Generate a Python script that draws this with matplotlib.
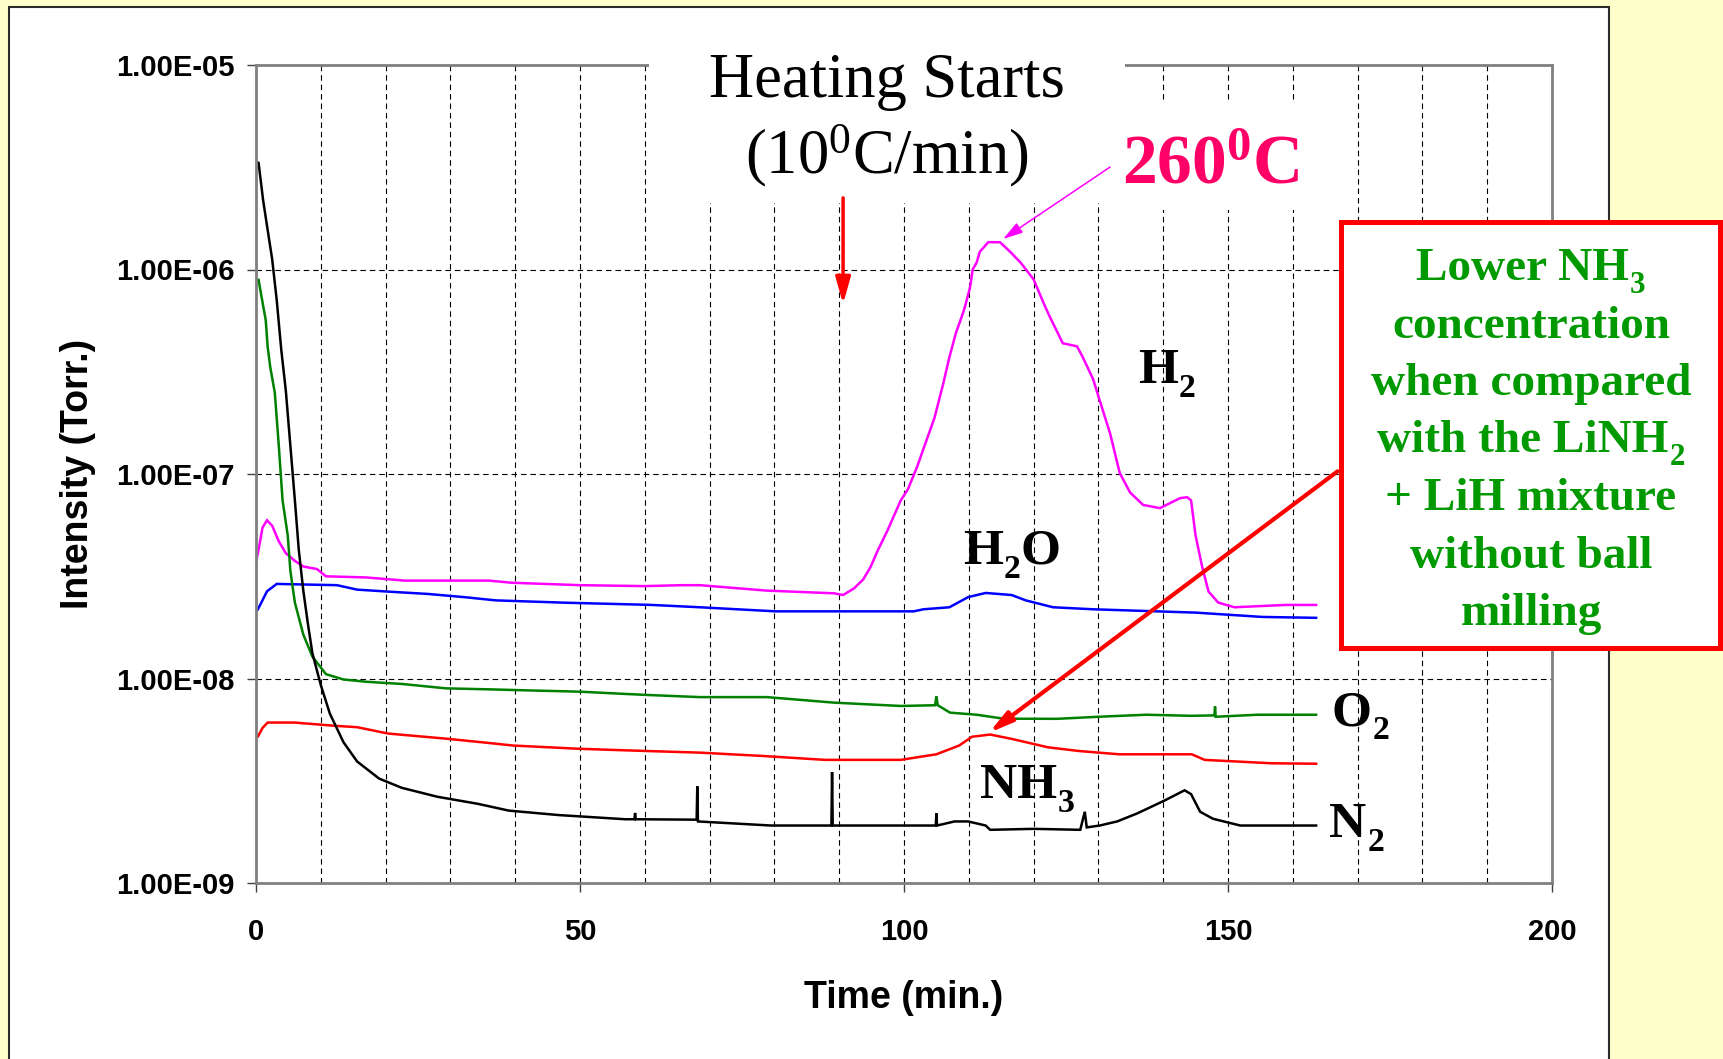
import re
import matplotlib
matplotlib.use("Agg")
import matplotlib.pyplot as plt
from matplotlib.patches import Rectangle
from matplotlib.ticker import MultipleLocator, NullLocator

# ---- data: time (min) and intensity (Torr) for each mass channel ----
time_h2 = [0.0, 0.3, 1.0, 1.7, 2.5, 3.5, 4.6, 6.0, 7.3, 8.5, 9.4, 10.8, 17.0, 23.0,
           36.0, 39.4, 50.0, 60.0, 65.8, 68.5, 78.8, 89.2, 90.6, 92.3, 93.7, 94.8,
           96.0, 97.4, 99.5, 100.6, 102.0, 103.5, 104.7, 106.0, 107.0, 108.0, 108.9,
           109.4, 110.2, 110.6, 111.2, 111.7, 113.0, 114.8, 116.4, 118.0, 120.0,
           121.5, 122.5, 124.5, 126.7, 127.6, 129.2, 130.2, 131.8, 133.3, 134.9,
           136.9, 139.5, 142.6, 143.7, 144.3, 145.0, 146.0, 147.0, 148.5, 151.0,
           155.0, 159.0, 163.6]
h2 = [3.76e-8, 4.10e-8, 5.46e-8, 5.94e-8, 5.58e-8, 4.70e-8, 4.10e-8, 3.76e-8,
      3.53e-8, 3.47e-8, 3.43e-8, 3.16e-8, 3.12e-8, 3.01e-8, 3.01e-8, 2.94e-8,
      2.86e-8, 2.83e-8, 2.86e-8, 2.86e-8, 2.69e-8, 2.61e-8, 2.56e-8, 2.76e-8,
      3.05e-8, 3.49e-8, 4.26e-8, 5.25e-8, 7.43e-8, 8.41e-8, 1.08e-7, 1.47e-7,
      1.88e-7, 2.72e-7, 3.72e-7, 4.88e-7, 5.87e-7, 6.56e-7, 8.20e-7, 1.00e-6,
      1.08e-6, 1.22e-6, 1.36e-6, 1.36e-6, 1.22e-6, 1.08e-6, 8.95e-7, 6.90e-7,
      5.87e-7, 4.36e-7, 4.21e-7, 3.72e-7, 2.90e-7, 2.29e-7, 1.58e-7, 1.01e-7,
      8.11e-8, 7.06e-8, 6.81e-8, 7.62e-8, 7.70e-8, 7.43e-8, 5.0e-8, 3.53e-8,
      2.66e-8, 2.35e-8, 2.23e-8, 2.26e-8, 2.29e-8, 2.29e-8]

time_h2o = [0.0, 0.3, 1.7, 3.2, 12.5, 15.6, 20.4, 26.6, 32.1, 37.0, 47.3, 61.0,
            68.5, 80.2, 101.5, 103.0, 107.0, 109.9, 112.6, 116.6, 118.8, 123.0,
            129.2, 145.0, 155.3, 163.6]
h2o = [2.13e-8, 2.18e-8, 2.67e-8, 2.90e-8, 2.86e-8, 2.72e-8, 2.66e-8, 2.59e-8,
       2.50e-8, 2.41e-8, 2.35e-8, 2.29e-8, 2.23e-8, 2.13e-8, 2.13e-8, 2.18e-8,
       2.23e-8, 2.50e-8, 2.62e-8, 2.56e-8, 2.41e-8, 2.23e-8, 2.18e-8, 2.10e-8,
       2.00e-8, 1.98e-8]

time_o2 = [0.0, 0.4, 0.8, 1.5, 1.8, 2.2, 2.9, 3.5, 4.1, 4.9, 5.3, 6.0, 7.3, 8.7,
           10.8, 13.5, 17.0, 22.6, 29.3, 36.0, 43.0, 50.0, 56.8, 60.3, 68.5, 78.8,
           89.2, 99.5, 104.8, 105.0, 105.2, 107.1, 111.2, 115.4, 123.6, 130.0,
           137.4, 144.3, 147.9, 148.0, 148.1, 154.6, 163.6]
o2 = [8.83e-7, 8.9e-7, 7.52e-7, 5.66e-7, 4.18e-7, 3.33e-7, 2.50e-7, 1.40e-7,
      7.43e-8, 5.0e-8, 3.37e-8, 2.35e-8, 1.64e-8, 1.28e-8, 1.05e-8, 9.89e-9,
      9.64e-9, 9.40e-9, 8.95e-9, 8.85e-9, 8.73e-9, 8.62e-9, 8.41e-9, 8.31e-9,
      8.11e-9, 8.11e-9, 7.62e-9, 7.34e-9, 7.4e-9, 8.2e-9, 7.4e-9, 6.81e-9,
      6.65e-9, 6.36e-9, 6.35e-9, 6.5e-9, 6.65e-9, 6.57e-9, 6.6e-9, 7.3e-9,
      6.5e-9, 6.65e-9, 6.65e-9]

time_nh3 = [0.0, 0.3, 1.0, 1.8, 5.9, 12.2, 15.6, 20.4, 29.3, 34.8, 39.7, 50.0,
            60.3, 68.5, 78.2, 87.8, 99.5, 105.0, 108.5, 110.5, 113.3, 116.7, 122.2,
            127.0, 133.2, 144.4, 146.4, 156.7, 163.6]
nh3 = [5.19e-9, 5.2e-9, 5.73e-9, 6.09e-9, 6.09e-9, 5.87e-9, 5.78e-9, 5.38e-9,
       5.08e-9, 4.88e-9, 4.70e-9, 4.53e-9, 4.42e-9, 4.34e-9, 4.18e-9, 4.00e-9,
       4.00e-9, 4.26e-9, 4.70e-9, 5.19e-9, 5.32e-9, 5.06e-9, 4.61e-9, 4.42e-9,
       4.26e-9, 4.26e-9, 4.00e-9, 3.85e-9, 3.83e-9]

time_n2 = [0.0, 0.4, 1.1, 1.8, 2.5, 3.2, 3.9, 4.6, 5.3, 6.0, 6.6, 7.3, 8.0, 8.7,
           10.0, 11.4, 13.5, 15.6, 19.0, 22.5, 28.0, 34.2, 39.0, 46.6, 57.0, 58.4,
           58.5, 58.6, 68.0, 68.1, 68.2, 79.5, 88.8, 88.9, 89.0, 104.9, 105.0,
           105.1, 107.8, 109.9, 112.6, 113.3, 120.0, 127.2, 127.9, 128.2, 130.2,
           132.9, 136.0, 140.2, 143.3, 144.3, 145.7, 147.7, 151.9, 163.6]
n2 = [3.37e-6, 3.32e-6, 2.18e-6, 1.56e-6, 1.12e-6, 7.07e-7, 4.05e-7, 2.56e-7,
      1.38e-7, 7.43e-8, 4.26e-8, 2.69e-8, 1.86e-8, 1.33e-8, 9.29e-9, 6.73e-9,
      4.88e-9, 3.93e-9, 3.24e-9, 2.92e-9, 2.64e-9, 2.44e-9, 2.26e-9, 2.15e-9,
      2.05e-9, 2.05e-9, 2.2e-9, 2.05e-9, 2.04e-9, 2.97e-9, 2.00e-9, 1.91e-9,
      1.91e-9, 3.49e-9, 1.91e-9, 1.91e-9, 2.19e-9, 1.91e-9, 2.00e-9, 2.00e-9,
      1.91e-9, 1.82e-9, 1.84e-9, 1.82e-9, 2.23e-9, 1.87e-9, 1.91e-9, 2.00e-9,
      2.19e-9, 2.53e-9, 2.84e-9, 2.72e-9, 2.23e-9, 2.06e-9, 1.91e-9, 1.91e-9]

series_names = ["H$_2$", "H$_2$O", "O$_2$", "NH$_3$", "N$_2$"]
series_colors = ["#FF00FF", "#0000FF", "#008000", "#FF0000", "#000000"]

x_ticks = [0, 50, 100, 150, 200]
x_tick_labels = ["0", "50", "100", "150", "200"]
y_ticks = [1e-9, 1e-8, 1e-7, 1e-6, 1e-5]
y_tick_labels = ["1.00E-09", "1.00E-08", "1.00E-07", "1.00E-06", "1.00E-05"]

note_lines = ["Lower NH$_3$", "concentration", "when compared",
              "with the LiNH$_2$", "+ LiH mixture", "without ball", "milling"]

# ---- figure setup ----
plt.rcParams["mathtext.default"] = "regular"
W, H = 1724, 1059
fig = plt.figure(figsize=(W / 100, H / 100), dpi=100, facecolor="#FFFFCC")
renderer = fig.canvas.get_renderer()


def fx(px):
    return px / W


def fy(py):
    return 1 - py / H


SERIF = "Liberation Serif"
SANS = "Liberation Sans"


def draw_formula(x_px, y_px, formula, size, ha="left", **kw):
    """Write a chemical formula with dropped subscripts, baseline at y_px."""
    pieces = re.split(r"\$_(\w+)\$", formula)
    items = []
    for i, s in enumerate(pieces):
        if not s:
            continue
        sub = i % 2 == 1
        fs = size * 0.66 if sub else size
        drop = size * 0.27 * 100 / 72 if sub else 0.0
        t = fig.text(0, 0, s, fontsize=fs, ha="left", va="baseline", **kw)
        w = t.get_window_extent(renderer).width
        gap = size * 0.02 * 100 / 72 if sub else 0.0
        items.append((t, drop, w, gap))
    total = sum(w + g for _, _, w, g in items)
    x = x_px - (total / 2 if ha == "center" else 0)
    for t, drop, w, gap in items:
        x += gap
        t.set_position((fx(x), fy(y_px + drop)))
        x += w


# white slide panel with dark frame (open at the bottom)
fig.add_artist(Rectangle((fx(9), -0.05), fx(1609) - fx(9), fy(7) + 0.05,
                         transform=fig.transFigure, facecolor="white",
                         edgecolor="#2b2b2b", linewidth=1.5, zorder=-1))

ax = fig.add_axes([fx(256), fy(883), fx(1552) - fx(256), (883 - 65) / H])
ax.set_facecolor("white")

series = [(time_h2, h2), (time_h2o, h2o), (time_o2, o2), (time_nh3, nh3), (time_n2, n2)]
for (t, v), c in zip(series, series_colors):
    ax.plot(t, v, color=c, lw=1.8, solid_joinstyle="miter", zorder=2)

ax.set_yscale("log")
ax.set_xlim(0, 200)
ax.set_ylim(1e-9, 1e-5)

ax.set_xticks(x_ticks, x_tick_labels, fontsize=21, fontweight="bold", fontfamily=SANS)
ax.set_yticks(y_ticks, y_tick_labels, fontsize=21, fontweight="bold", fontfamily=SANS)
ax.xaxis.set_minor_locator(MultipleLocator(10))
ax.yaxis.set_minor_locator(NullLocator())
ax.tick_params(which="major", direction="out", length=6.5, width=1.0, color="#404040")
ax.tick_params(axis="x", which="major", pad=19)
ax.tick_params(axis="y", which="major", pad=9)
ax.tick_params(axis="x", which="minor", length=0)

dash = (0, (5, 3.5))
ax.grid(True, axis="x", which="both", linestyle=dash, linewidth=0.8, color="black")
ax.grid(True, axis="y", which="major", linestyle=dash, linewidth=0.8, color="black")

for sp in ax.spines.values():
    sp.set_color("#808080")
    sp.set_linewidth(2.0)

ax.set_xlabel("Time (min.)", fontsize=27, fontweight="bold", fontfamily=SANS)
ax.xaxis.set_label_coords(0.5, (883 - 998) / 818)
ax.xaxis.label.set_va("center")
ax.set_ylabel("Intensity (Torr.)", fontsize=27, fontweight="bold", fontfamily=SANS)
ax.yaxis.set_label_coords((78 - 256) / 1296, 0.5)
ax.yaxis.label.set_va("center")

# white backgrounds of the heading and temperature callouts
for (x0, y0, x1, y1) in [(649, 30, 1125, 203), (1125, 102, 1345, 210)]:
    ax.add_patch(Rectangle((fx(x0), fy(y1)), fx(x1) - fx(x0), fy(y0) - fy(y1),
                           transform=fig.transFigure, facecolor="white",
                           edgecolor="none", clip_on=False, zorder=3))

# note box
ax.add_patch(Rectangle((fx(1341), fy(648)), fx(1720) - fx(1341), fy(222) - fy(648),
                       transform=fig.transFigure, facecolor="white",
                       edgecolor="#FF0000", linewidth=3.6, clip_on=False, zorder=5))

# arrows
ax.annotate("", xy=(90.6, 6.78e-7), xytext=(90.6, 2.24e-6), annotation_clip=False,
            arrowprops=dict(arrowstyle="-|>,head_length=1.6,head_width=0.45",
                            mutation_scale=10, color="#FF0000", lw=2.5,
                            shrinkA=0, shrinkB=0), zorder=4)
ax.annotate("", xy=(115.3, 1.41e-6), xytext=(131.8, 3.17e-6), annotation_clip=False,
            arrowprops=dict(arrowstyle="-|>,head_length=1.2,head_width=0.35",
                            mutation_scale=10, color="#FF00FF", lw=1.1,
                            shrinkA=0, shrinkB=0), zorder=4)
ax.annotate("", xy=(113.1, 5.42e-9), xytext=(166.9, 1.03e-7), annotation_clip=False,
            arrowprops=dict(arrowstyle="-|>,head_length=1.4,head_width=0.35",
                            mutation_scale=10, color="#FF0000", lw=3.0,
                            shrinkA=0, shrinkB=0), zorder=4)

# heading
fig.text(fx(887), fy(97), "Heating Starts", ha="center", va="baseline",
         fontsize=45, fontfamily=SERIF)
fig.text(fx(887), fy(173), "(10$^0$C/min)", ha="center", va="baseline",
         fontsize=45, fontfamily=SERIF)
fig.text(fx(1122), fy(183), "260$^0$C", ha="left", va="baseline",
         fontsize=50, fontweight="bold", fontfamily=SERIF, color="#FF0066")

# curve labels
label_pos = [(1138, 383), (963, 564), (1332, 725), (980, 798), (1329, 837)]
for name, (px, py) in zip(series_names, label_pos):
    draw_formula(px, py, name, 37, fontweight="bold", fontfamily=SERIF, color="black")

# note text
for i, line in enumerate(note_lines):
    draw_formula(1531, 280 + i * 57.5, line, 34, ha="center", fontweight="bold",
                 fontfamily=SERIF, color="#009900", zorder=6)

fig.savefig("out.png", dpi=100, facecolor=fig.get_facecolor())
